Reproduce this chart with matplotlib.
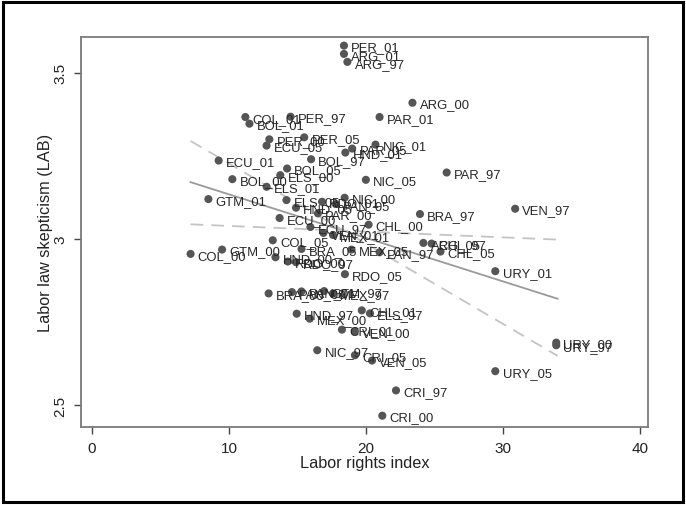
import matplotlib
matplotlib.use("Agg")
import matplotlib.pyplot as plt
from matplotlib.patches import Rectangle

# ---- data ----
labels = [
    "PER_01", "ARG_01", "ARG_97", "ARG_00", "COL_01", "BOL_01", "PER_97", "PAR_01",
    "PER_00", "PER_05", "ECU_05", "PAR_05", "NIC_01", "HND_01", "ECU_01", "BOL_97",
    "BOL_05", "ELS_00", "BOL_00", "NIC_05", "PAR_97", "ELS_01", "GTM_01", "ELS_05",
    "HND_05", "RDO_01", "NIC_00", "PAN_05", "PAR_00", "BRA_97", "VEN_97", "ECU_00",
    "CHL_00", "ECU_97", "VEN_01", "MEX_01", "COL_05", "ARG_05", "CHL_97", "CHL_05",
    "PAN_97", "MEX_05", "BRA_05", "GTM_00", "COL_00", "HND_00", "RDO_00", "RDO_97",
    "URY_01", "RDO_05", "BRA_00", "PAN_00", "PAN_01", "GTM_97", "MEX_97", "HND_97",
    "MEX_00", "CHL_01", "ELS_97", "CRI_01", "VEN_00", "NIC_97", "CRI_05", "VEN_05",
    "URY_00", "URY_97", "URY_05", "CRI_97", "CRI_00",
]
labor_rights = [
    18.40, 18.40, 18.65, 23.40, 11.20, 11.50, 14.50, 21.00,
    12.95, 15.50, 12.75, 19.00, 20.70, 18.50, 9.25, 16.00,
    14.25, 13.75, 10.25, 20.00, 25.90, 12.75, 8.50, 14.20,
    14.90, 16.80, 18.45, 17.80, 16.50, 23.95, 30.90, 13.70,
    20.20, 15.95, 16.90, 17.60, 13.20, 24.20, 24.80, 25.45,
    21.00, 18.95, 15.30, 9.50, 7.20, 13.40, 14.30, 14.90,
    29.45, 18.47, 12.90, 14.60, 15.30, 16.95, 17.60, 14.95,
    15.90, 19.70, 20.30, 18.25, 19.20, 16.45, 19.20, 20.45,
    33.90, 33.90, 29.45, 22.20, 21.20,
]
lab = [
    3.582, 3.557, 3.533, 3.410, 3.367, 3.347, 3.368, 3.367,
    3.300, 3.306, 3.281, 3.272, 3.284, 3.260, 3.236, 3.240,
    3.212, 3.192, 3.180, 3.178, 3.200, 3.157, 3.120, 3.117,
    3.094, 3.112, 3.124, 3.105, 3.077, 3.075, 3.091, 3.063,
    3.043, 3.036, 3.018, 3.012, 2.996, 2.988, 2.986, 2.962,
    2.960, 2.968, 2.970, 2.968, 2.955, 2.945, 2.932, 2.930,
    2.903, 2.894, 2.836, 2.840, 2.842, 2.843, 2.836, 2.775,
    2.760, 2.785, 2.776, 2.727, 2.722, 2.665, 2.650, 2.634,
    2.688, 2.680, 2.602, 2.544, 2.468,
]

# fitted line and the two dashed lines (end points)
fit_x = [7.2, 34.0]
fit_y = [3.171, 2.820]
dash1_y = [3.295, 2.648]
dash2_y = [3.044, 2.998]

xticks = [0, 10, 20, 30, 40]
yticks = [2.5, 3.0, 3.5]
ytick_labels = ["2.5", "3", "3.5"]

plt.rcParams['font.family'] = ['Liberation Sans', 'DejaVu Sans']

fig = plt.figure(figsize=(6.86, 5.06), dpi=100)
fig.patch.set_facecolor("white")
ax = fig.add_axes([0.1181, 0.1542, 0.8265, 0.7714])

ax.plot(fit_x, fit_y, color="#9a9a9a", lw=1.3, zorder=1)
ax.plot(fit_x, dash1_y, color="#c4c4c4", lw=1.3, dashes=(7, 4.5), zorder=1)
ax.plot(fit_x, dash2_y, color="#c4c4c4", lw=1.3, dashes=(7, 4.5), zorder=1)

ax.scatter(labor_rights, lab, s=34, color="#555555", edgecolors="none", zorder=2)
for lbl, xv, yv in zip(labels, labor_rights, lab):
    ax.annotate(lbl, (xv, yv), xytext=(5.2, -3.4), textcoords="offset points",
                ha="left", va="baseline", fontsize=9.4, color="#262626", zorder=3)

ax.set_xlim(-0.8, 40.6)
ax.set_ylim(2.434, 3.609)
ax.set_xticks(xticks)
ax.set_yticks(yticks)
ax.set_yticklabels(ytick_labels)
ax.tick_params(axis="both", direction="out", length=5, width=1.0, color="#444444",
               labelsize=11, labelcolor="#222222", pad=5)
ax.tick_params(axis="y", labelrotation=90)
for t in ax.get_yticklabels():
    t.set_va("center")

for sp in ax.spines.values():
    sp.set_color("#7a7a7a")
    sp.set_linewidth(1.3)

ax.set_xlabel("Labor rights index", fontsize=11.7, color="#222222", va="center")
ax.xaxis.set_label_coords(0.5, -0.092)
ax.set_ylabel("Labor law skepticism (LAB)", fontsize=11.7, color="#222222", va="center")
ax.yaxis.set_label_coords(-0.062, 0.5)

# outer black border
fig.patches.append(Rectangle((0.005, 0.006), 0.99, 0.988, transform=fig.transFigure,
                             fill=False, edgecolor="black", linewidth=2.2))

fig.savefig("out.png", dpi=100, facecolor="white")
